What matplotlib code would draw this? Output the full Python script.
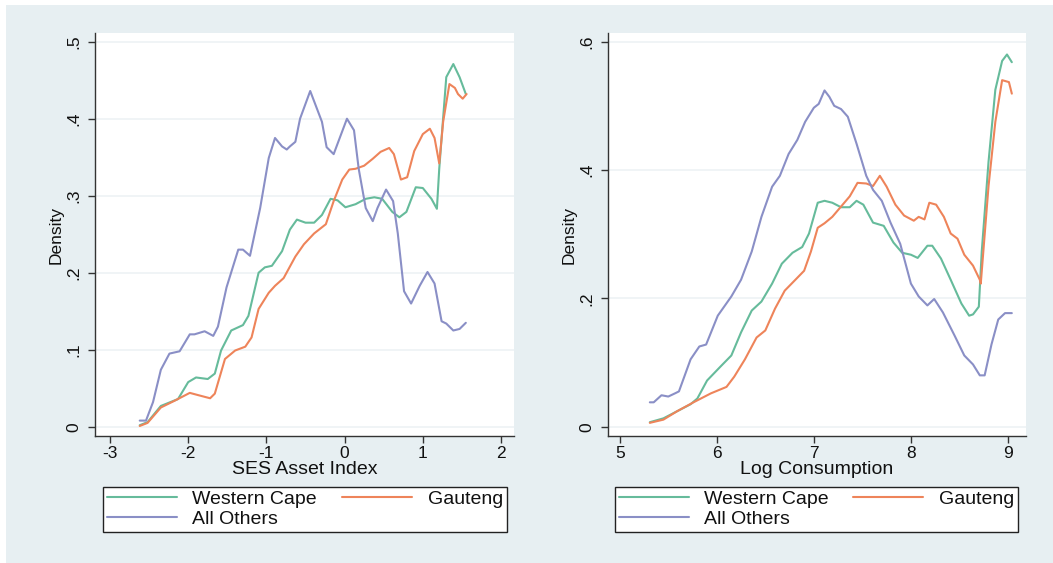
import matplotlib
matplotlib.use("Agg")
import matplotlib.pyplot as plt
from matplotlib.patches import Rectangle

# ---------------- data ----------------
series_names = ["Western Cape", "Gauteng", "All Others"]

# Left panel: SES Asset Index
ses_wc_x = [-2.62, -2.52, -2.35, -2.13, -2.00, -1.90, -1.75, -1.66, -1.58, -1.45, -1.30, -1.23,
            -1.10, -1.02, -0.93, -0.80, -0.70, -0.61, -0.50, -0.39, -0.29, -0.18, -0.09, 0.01,
            0.14, 0.27, 0.38, 0.48, 0.61, 0.70, 0.79, 0.91, 1.00, 1.11, 1.18, 1.21, 1.30, 1.39,
            1.47, 1.55]
ses_wc_y = [0.002, 0.006, 0.027, 0.036, 0.058, 0.064, 0.062, 0.069, 0.099, 0.125, 0.132, 0.144,
            0.200, 0.207, 0.209, 0.228, 0.256, 0.269, 0.265, 0.265, 0.275, 0.296, 0.294, 0.285,
            0.289, 0.296, 0.298, 0.296, 0.279, 0.272, 0.279, 0.311, 0.310, 0.296, 0.283, 0.335,
            0.454, 0.471, 0.454, 0.432]

ses_g_x = [-2.62, -2.52, -2.35, -2.17, -1.98, -1.87, -1.72, -1.66, -1.53, -1.40, -1.27, -1.19,
           -1.10, -0.97, -0.89, -0.78, -0.63, -0.52, -0.39, -0.24, -0.14, -0.03, 0.06, 0.14,
           0.25, 0.36, 0.46, 0.57, 0.63, 0.72, 0.80, 0.89, 1.00, 1.09, 1.15, 1.21, 1.26, 1.34,
           1.41, 1.45, 1.51, 1.56]
ses_g_y = [0.001, 0.005, 0.025, 0.034, 0.044, 0.041, 0.037, 0.043, 0.088, 0.099, 0.104, 0.116,
           0.153, 0.174, 0.183, 0.193, 0.221, 0.237, 0.251, 0.263, 0.293, 0.321, 0.334, 0.335,
           0.339, 0.348, 0.357, 0.362, 0.354, 0.321, 0.324, 0.358, 0.380, 0.387, 0.375, 0.342,
           0.396, 0.445, 0.440, 0.432, 0.426, 0.432]

ses_ao_x = [-2.62, -2.54, -2.45, -2.35, -2.24, -2.11, -1.98, -1.92, -1.79, -1.68, -1.62, -1.51,
            -1.36, -1.30, -1.21, -1.08, -0.97, -0.89, -0.80, -0.74, -0.70, -0.63, -0.57, -0.44,
            -0.35, -0.29, -0.23, -0.14, -0.07, 0.03, 0.12, 0.18, 0.27, 0.36, 0.42, 0.53, 0.62,
            0.68, 0.76, 0.85, 0.96, 1.06, 1.15, 1.24, 1.30, 1.39, 1.47, 1.55]
ses_ao_y = [0.008, 0.008, 0.032, 0.074, 0.095, 0.098, 0.120, 0.120, 0.124, 0.118, 0.130, 0.181,
            0.230, 0.230, 0.222, 0.284, 0.349, 0.375, 0.364, 0.360, 0.364, 0.370, 0.400, 0.436,
            0.412, 0.396, 0.363, 0.354, 0.373, 0.400, 0.385, 0.335, 0.284, 0.267, 0.284, 0.308,
            0.293, 0.251, 0.176, 0.160, 0.183, 0.201, 0.186, 0.137, 0.134, 0.125, 0.127, 0.135]

# Right panel: Log Consumption
cons_wc_x = [5.31, 5.45, 5.59, 5.73, 5.80, 5.90, 6.04, 6.15, 6.25, 6.36, 6.46, 6.57, 6.67, 6.78,
             6.88, 6.95, 7.04, 7.11, 7.19, 7.28, 7.37, 7.44, 7.51, 7.61, 7.72, 7.82, 7.91, 8.00,
             8.07, 8.17, 8.22, 8.31, 8.41, 8.52, 8.60, 8.64, 8.70, 8.73, 8.80, 8.87, 8.94, 8.99,
             9.04]
cons_wc_y = [0.007, 0.013, 0.024, 0.035, 0.044, 0.072, 0.094, 0.111, 0.147, 0.181, 0.195, 0.223,
             0.254, 0.271, 0.280, 0.301, 0.349, 0.352, 0.349, 0.342, 0.342, 0.352, 0.346, 0.318,
             0.313, 0.287, 0.271, 0.268, 0.263, 0.282, 0.282, 0.262, 0.229, 0.192, 0.173, 0.175,
             0.187, 0.273, 0.413, 0.525, 0.570, 0.580, 0.568]

cons_g_x = [5.31, 5.45, 5.59, 5.76, 5.94, 6.10, 6.18, 6.29, 6.41, 6.50, 6.60, 6.70, 6.81, 6.90,
            6.97, 7.04, 7.11, 7.19, 7.28, 7.37, 7.45, 7.54, 7.61, 7.68, 7.75, 7.84, 7.93, 8.03,
            8.08, 8.14, 8.19, 8.26, 8.34, 8.41, 8.48, 8.55, 8.64, 8.71, 8.72, 8.80, 8.87, 8.94,
            9.01, 9.04]
cons_g_y = [0.006, 0.011, 0.024, 0.038, 0.052, 0.062, 0.078, 0.105, 0.139, 0.150, 0.184, 0.212,
            0.229, 0.243, 0.273, 0.310, 0.317, 0.327, 0.343, 0.359, 0.380, 0.379, 0.375, 0.391,
            0.374, 0.346, 0.329, 0.321, 0.327, 0.323, 0.349, 0.346, 0.327, 0.301, 0.293, 0.268,
            0.251, 0.229, 0.223, 0.375, 0.475, 0.540, 0.537, 0.519]

cons_ao_x = [5.31, 5.35, 5.43, 5.50, 5.57, 5.61, 5.73, 5.82, 5.89, 6.01, 6.15, 6.25, 6.36, 6.46,
             6.57, 6.65, 6.74, 6.83, 6.91, 7.00, 7.05, 7.11, 7.16, 7.21, 7.28, 7.35, 7.44, 7.54,
             7.61, 7.70, 7.79, 7.89, 8.00, 8.08, 8.17, 8.24, 8.33, 8.45, 8.55, 8.64, 8.71, 8.76,
             8.83, 8.90, 8.97, 9.04]
cons_ao_y = [0.038, 0.038, 0.049, 0.047, 0.052, 0.055, 0.105, 0.125, 0.128, 0.173, 0.203, 0.229,
             0.273, 0.327, 0.374, 0.391, 0.425, 0.447, 0.475, 0.497, 0.503, 0.524, 0.514, 0.500,
             0.495, 0.483, 0.441, 0.391, 0.369, 0.352, 0.318, 0.285, 0.223, 0.203, 0.189, 0.199,
             0.178, 0.142, 0.111, 0.097, 0.080, 0.080, 0.128, 0.167, 0.177, 0.177]

left_xticks = [-3, -2, -1, 0, 1, 2]
left_xticklabels = ["-3", "-2", "-1", "0", "1", "2"]
left_yticks = [0, 0.1, 0.2, 0.3, 0.4, 0.5]
left_yticklabels = ["0", ".1", ".2", ".3", ".4", ".5"]
right_xticks = [5, 6, 7, 8, 9]
right_xticklabels = ["5", "6", "7", "8", "9"]
right_yticks = [0, 0.2, 0.4, 0.6]
right_yticklabels = ["0", ".2", ".4", ".6"]

# ---------------- style ----------------
plt.rcParams['font.family'] = ['Liberation Sans', 'DejaVu Sans']
W, H = 1053, 563
colors = {"Western Cape": "#66bb9b", "Gauteng": "#ee845a", "All Others": "#8a8fc6"}
bg = "#e7eff2"
grid_c = "#eef2f5"
axis_c = "#333333"

fig = plt.figure(figsize=(W / 100, H / 100), dpi=100, facecolor="white")
fig.patches.append(Rectangle((6 / W, 0), 1 - 6 / W, 1 - 5 / H, transform=fig.transFigure,
                             facecolor=bg, edgecolor="none", zorder=-10))


def px(x0, y0, x1, y1):
    return [x0 / W, 1 - y1 / H, (x1 - x0) / W, (y1 - y0) / H]


def make_panel(rect, xlim, ylim, xticks, xtl, yticks, ytl, xlabel, data, legend_box):
    ax = fig.add_axes(rect, zorder=1)
    ax.set_facecolor("white")
    ax.set_xlim(*xlim)
    ax.set_ylim(*ylim)
    for y in yticks:
        ax.axhline(y, color=grid_c, lw=1.2, zorder=1)
    handles = {}
    for name, (xs, ys) in zip(series_names, data):
        ln, = ax.plot(xs, ys, color=colors[name], lw=1.5, zorder=3, label=name,
                      solid_joinstyle="round", solid_capstyle="round")
        handles[name] = ln
    ax.set_xticks(xticks)
    ax.set_xticklabels(xtl)
    ax.set_yticks(yticks)
    ax.set_yticklabels(ytl, rotation=90, va="center")
    ax.tick_params(axis="both", direction="out", length=5, width=1, color=axis_c,
                   labelsize=12.5, labelcolor="#111111")
    ax.tick_params(axis="x", pad=2)
    ax.tick_params(axis="y", pad=5)
    for s in ["top", "right"]:
        ax.spines[s].set_visible(False)
    for s in ["left", "bottom"]:
        ax.spines[s].set_color(axis_c)
        ax.spines[s].set_linewidth(1.0)
    ax.set_xlabel(xlabel, fontsize=14, color="#111111", labelpad=0.5)
    ax.set_ylabel("Density", fontsize=12.5, color="#111111", labelpad=2)
    x0, y0, x1, y1 = legend_box
    order = ["Western Cape", "All Others", "Gauteng"]
    leg = fig.legend([handles[n] for n in order], order,
                     loc="lower left", bbox_to_anchor=(x0 / W, 1 - y1 / H, (x1 - x0) / W, (y1 - y0) / H),
                     bbox_transform=fig.transFigure, mode="expand", ncol=2,
                     fontsize=14, handlelength=3.6, handletextpad=0.8, columnspacing=1.2,
                     labelspacing=0.12, borderpad=0.2, borderaxespad=0, fancybox=False,
                     framealpha=1, edgecolor="#222222", facecolor="white")
    leg.get_frame().set_linewidth(1.0)
    leg.set_zorder(5)
    for t in leg.get_texts():
        t.set_color("#111111")
    return ax


axL = make_panel(px(95, 33, 514, 436), (-3.192, 2.166), (-0.012, 0.5113),
                 left_xticks, left_xticklabels, left_yticks, left_yticklabels,
                 "SES Asset Index",
                 [(ses_wc_x, ses_wc_y), (ses_g_x, ses_g_y), (ses_ao_x, ses_ao_y)],
                 (103, 483, 507, 532))
axR = make_panel(px(608, 33, 1026, 436), (4.879, 9.186), (-0.0145, 0.6135),
                 right_xticks, right_xticklabels, right_yticks, right_yticklabels,
                 "Log Consumption",
                 [(cons_wc_x, cons_wc_y), (cons_g_x, cons_g_y), (cons_ao_x, cons_ao_y)],
                 (615, 483, 1018, 532))

fig.savefig("out.png", dpi=100, facecolor=fig.get_facecolor())
